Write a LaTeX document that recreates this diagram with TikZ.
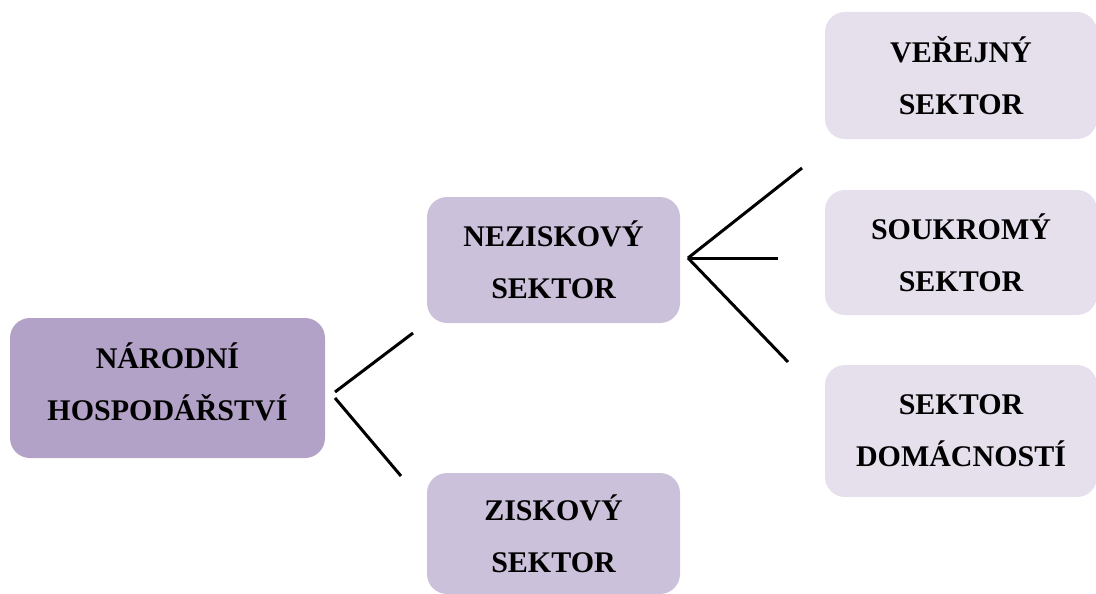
\documentclass[tikz,border=0pt]{standalone}
\usepackage{fontspec}
\setmainfont{Liberation Serif}
\usetikzlibrary{positioning}
\definecolor{nhfill}{HTML}{B3A2C7}
\definecolor{midfill}{HTML}{CCC1DA}
\definecolor{rightfill}{HTML}{E5E0EC}
\tikzset{
  sektor/.style={rectangle,rounded corners=20pt,align=center,inner sep=0pt,
    font=\bfseries\fontsize{30}{52}\selectfont},
  vetev/.style={line width=3pt},
}
\begin{document}
\begin{tikzpicture}[x=1pt,y=-1pt]
\pgfmathsetmacro{\kmidx}{553.5}
\pgfmathsetmacro{\krightx}{961}
\useasboundingbox (0,0) rectangle (1096,594);
% uzly
\node[sektor,fill=nhfill,minimum width=315pt,minimum height=140pt,text depth=12pt](nh) at (167.5,388){NÁRODNÍ\\HOSPODÁŘSTVÍ};
\node[sektor,fill=midfill,minimum width=253pt,minimum height=126pt](nezisk) at (\kmidx,260){NEZISKOVÝ\\SEKTOR};
\node[sektor,fill=midfill,minimum width=253pt,minimum height=121pt](zisk) at (\kmidx,533.5){ZISKOVÝ\\SEKTOR};
\node[sektor,fill=rightfill,minimum width=272pt,minimum height=127pt](verej) at (\krightx,75.5){VEŘEJNÝ\\SEKTOR};
\node[sektor,fill=rightfill,minimum width=272pt,minimum height=125pt](soukr) at (\krightx,252.5){SOUKROMÝ\\SEKTOR};
\node[sektor,fill=rightfill,minimum width=272pt,minimum height=132pt](domac) at (\krightx,431){SEKTOR\\DOMÁCNOSTÍ};
% vetve
\coordinate (nhA) at (335,392);
\coordinate (nhB) at (335,398);
\coordinate (nhAend) at (413,333);
\coordinate (nhBend) at (401,476);
\coordinate (nzA) at (688,258);
\coordinate (nzAend) at (802,168);
\coordinate (nzBend) at (778,258);
\coordinate (nzCend) at (788,362);
\draw[vetev](nhA)--(nhAend);
\draw[vetev](nhB)--(nhBend);
\foreach \kend in {nzAend,nzBend,nzCend}{\draw[vetev](nzA)--(\kend);}
\end{tikzpicture}
\end{document}
